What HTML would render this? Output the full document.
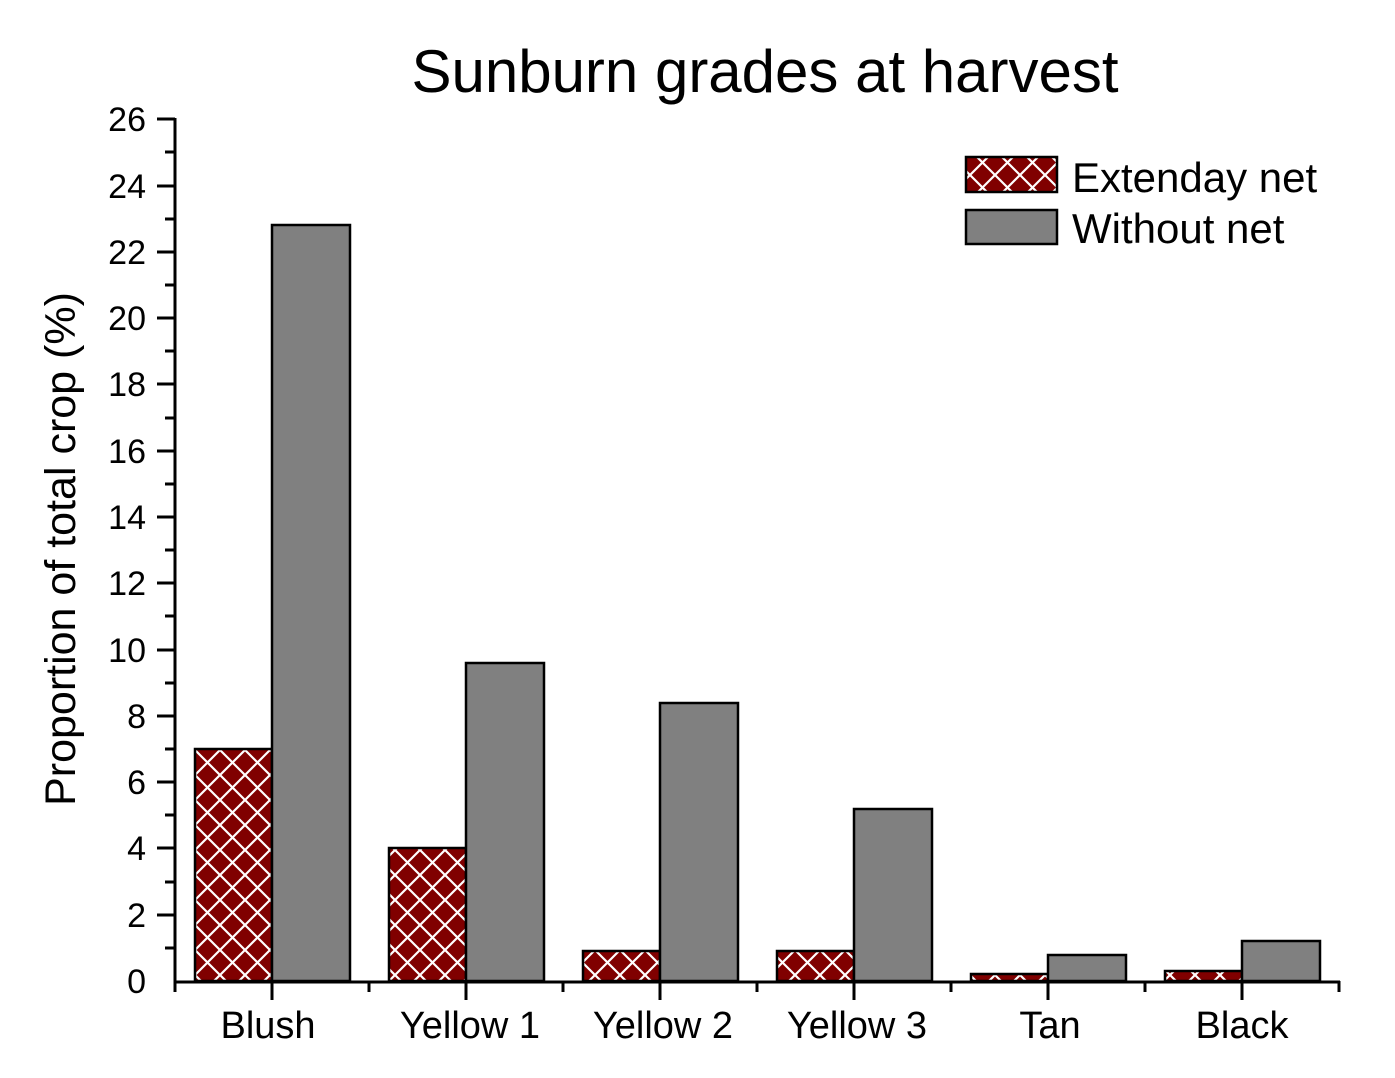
<!DOCTYPE html>
<html><head><style>body{margin:0;background:#fff}</style></head><body>
<svg width="1395" height="1073" xmlns="http://www.w3.org/2000/svg" font-family="Liberation Sans, Arial, sans-serif">
<defs>
<pattern id="h" width="25" height="25" patternUnits="userSpaceOnUse" x="195" y="0">
<rect width="25" height="25" fill="#800000"/>
<path d="M-2,-2 L27,27 M27,-2 L-2,27" stroke="#fff" stroke-width="2.2"/>
</pattern>
</defs>
<text x="765" y="92" font-size="60" text-anchor="middle">Sunburn grades at harvest</text>
<g stroke="#000" stroke-width="2.5">
<rect x="195" y="749" width="77" height="232" fill="url(#h)"/>
<rect x="272" y="225" width="78" height="756" fill="#808080"/>
<rect x="389" y="848" width="77" height="133" fill="url(#h)"/>
<rect x="466" y="663" width="78" height="318" fill="#808080"/>
<rect x="583" y="951" width="77" height="30" fill="url(#h)"/>
<rect x="660" y="703" width="78" height="278" fill="#808080"/>
<rect x="777" y="951" width="77" height="30" fill="url(#h)"/>
<rect x="854" y="809" width="78" height="172" fill="#808080"/>
<rect x="971" y="974" width="77" height="7" fill="url(#h)"/>
<rect x="1048" y="955" width="78" height="26" fill="#808080"/>
<rect x="1165" y="971" width="77" height="10" fill="url(#h)"/>
<rect x="1242" y="941" width="78" height="40" fill="#808080"/>
<rect x="966" y="157" width="91" height="35" fill="url(#h)"/>
<rect x="966" y="210" width="91" height="34" fill="#808080"/>
</g>
<g stroke="#000" stroke-width="3" fill="none">
<path d="M175,118 V982 H1340"/>
<path d="M175,119H157M175,186H157M175,252H157M175,318H157M175,384H157M175,451H157M175,517H157M175,583H157M175,650H157M175,716H157M175,782H157M175,848H157M175,915H157"/>
<path d="M175,152H165M175,219H165M175,285H165M175,351H165M175,418H165M175,484H165M175,550H165M175,616H165M175,683H165M175,749H165M175,815H165M175,882H165M175,948H165"/>
<path d="M272,981V1000M466,981V1000M660,981V1000M854,981V1000M1048,981V1000M1242,981V1000"/>
<path d="M175,981V992M369,981V992M563,981V992M757,981V992M951,981V992M1145,981V992M1339,981V992"/>
</g>
<g font-size="34" text-anchor="end">
<text x="146" y="131">26</text><text x="146" y="198">24</text><text x="146" y="264">22</text><text x="146" y="330">20</text><text x="146" y="396">18</text><text x="146" y="463">16</text><text x="146" y="529">14</text><text x="146" y="595">12</text><text x="146" y="662">10</text><text x="146" y="728">8</text><text x="146" y="794">6</text><text x="146" y="860">4</text><text x="146" y="927">2</text><text x="146" y="993">0</text>
</g>
<g font-size="38" text-anchor="middle">
<text x="268" y="1038">Blush</text><text x="470" y="1038">Yellow 1</text><text x="663" y="1038">Yellow 2</text><text x="857" y="1038">Yellow 3</text><text x="1050" y="1038">Tan</text><text x="1242" y="1038">Black</text>
</g>
<text transform="translate(75,549) rotate(-90)" font-size="43" text-anchor="middle">Proportion of total crop (%)</text>
<text x="1072" y="192" font-size="42">Extenday net</text>
<text x="1072" y="243" font-size="42">Without net</text>
</svg>
</body></html>
